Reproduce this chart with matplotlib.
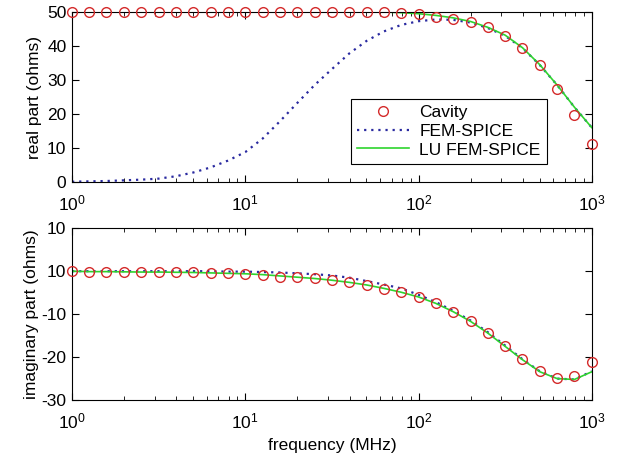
import numpy as np
import matplotlib.pyplot as plt
from matplotlib.ticker import FixedLocator, LogLocator, NullFormatter

plt.rcParams['font.family'] = ['Liberation Sans', 'DejaVu Sans']
plt.rcParams['font.size'] = 12.5
plt.rcParams['mathtext.fontset'] = 'custom'
plt.rcParams['mathtext.rm'] = 'Liberation Sans'

# frecuencias (MHz), 10 puntos por decada
freq = [1, 1.26, 1.58, 2, 2.51, 3.16, 3.98, 5.01, 6.31, 7.94,
        10, 12.6, 15.8, 20, 25.1, 31.6, 39.8, 50.1, 63.1, 79.4,
        100, 126, 158, 200, 251, 316, 398, 501, 631, 794, 1000]

# parte real
cav_re = [50, 50, 50, 50, 50, 50, 50, 50, 50, 50,
          50, 50, 50, 50, 50, 50, 50, 50, 50, 49.7,
          49.3, 48.6, 48.0, 47.0, 45.5, 43.0, 39.5, 34.3, 27.5, 19.7, 11.3]
fem_re = [0.1, 0.2, 0.3, 0.5, 0.7, 1.0, 1.7, 2.8, 4.3, 6.3,
          8.8, 12.8, 17.8, 23.3, 28.5, 33.2, 37.8, 41.5, 44.3, 46.2,
          47.3, 47.8, 47.7, 46.9, 45.3, 43.0, 39.4, 34.4, 28.5, 22.0, 16.0]
lu_re = [50, 50, 50, 50, 50, 50, 50, 50, 50, 50,
         50, 50, 50, 50, 50, 50, 50, 50, 50, 49.8,
         49.5, 49.0, 48.3, 47.2, 45.5, 43.2, 39.5, 34.5, 28.5, 22.0, 16.0]

# parte imaginaria
cav_im = [0, -0.2, -0.2, -0.2, -0.2, -0.2, -0.2, -0.3, -0.4, -0.5,
          -0.6, -0.9, -1.25, -1.4, -1.6, -2.1, -2.6, -3.1, -4.1, -4.8,
          -6.1, -7.5, -9.4, -11.6, -14.3, -17.4, -20.4, -23.3, -24.8, -24.5, -21.1]
fem_im = [0, 0, 0, 0, 0, 0, 0, 0, 0, -0.1,
          -0.1, -0.2, -0.3, -0.5, -0.7, -1.0, -1.5, -2.3, -3.1, -4.0,
          -5.5, -7.2, -9.2, -11.5, -14.2, -17.3, -20.5, -23.3, -25.0, -25.2, -23.3]
lu_im = [0, -0.1, -0.1, -0.15, -0.2, -0.2, -0.25, -0.3, -0.4, -0.5,
         -0.6, -0.8, -1.1, -1.4, -1.7, -2.1, -2.6, -3.2, -4.0, -4.9,
         -6.0, -7.5, -9.4, -11.7, -14.4, -17.5, -20.6, -23.4, -25.0, -25.2, -23.4]

y_ticks_im = [10, 0, -10, -20, -30]
y_labels_im = ['10', '10', '-10', '-20', '-30']

rojo = '#d42a2a'
azul = '#2a2aa0'
verde = '#2ed42e'
punteado = (0, (1, 2.2))

fig = plt.figure(figsize=(6.21, 4.62), dpi=100)
ax1 = fig.add_axes([0.116, 0.606, 0.837, 0.368])
ax2 = fig.add_axes([0.116, 0.134, 0.837, 0.372])


def estilo(ax):
    ax.set_xscale('log')
    ax.set_xlim(1, 1000)
    ax.xaxis.set_major_locator(LogLocator(base=10, numticks=10))
    ax.xaxis.set_minor_locator(LogLocator(base=10, subs=np.arange(2, 10), numticks=20))
    ax.xaxis.set_minor_formatter(NullFormatter())
    ax.tick_params(which='both', direction='in', top=True, right=True, labelsize=12.5)
    ax.tick_params(which='major', length=5)
    ax.tick_params(axis='y', which='major', pad=4)
    ax.tick_params(axis='x', which='major', pad=8)
    ax.tick_params(which='minor', length=3)
    for s in ax.spines.values():
        s.set_linewidth(0.8)


ax1.plot(freq, cav_re, 'o', mfc='none', mec=rojo, ms=7, mew=1.0, label='Cavity', clip_on=False, zorder=4)
ax1.plot(freq, fem_re, linestyle=punteado, color=azul, lw=1.6, label='FEM-SPICE')
ax1.plot(freq, lu_re, '-', color=verde, lw=1.2, label='LU FEM-SPICE')
estilo(ax1)
ax1.set_ylim(0, 50)
ax1.set_yticks([0, 10, 20, 30, 40, 50])
ax1.set_ylabel('real part (ohms)', labelpad=4)
leg = ax1.legend(loc='upper right', bbox_to_anchor=(0.913, 0.488), numpoints=1,
                 fancybox=False, framealpha=1, edgecolor='black', fontsize=12.5,
                 borderaxespad=0, handlelength=3.0, labelspacing=0.2,
                 borderpad=0.35, handletextpad=0.6)
leg.get_frame().set_linewidth(0.8)

ax2.plot(freq, cav_im, 'o', mfc='none', mec=rojo, ms=7, mew=1.0, clip_on=False, zorder=4)
ax2.plot(freq, fem_im, linestyle=punteado, color=azul, lw=1.6)
ax2.plot(freq, lu_im, '-', color=verde, lw=1.2)
estilo(ax2)
ax2.set_ylim(-30, 10)
ax2.yaxis.set_major_locator(FixedLocator(y_ticks_im))
ax2.set_yticklabels(y_labels_im)
ax2.set_ylabel('imaginary part (ohms)', labelpad=2)
ax2.set_xlabel('frequency (MHz)', labelpad=5)

fig.savefig('out.png', dpi=100)
